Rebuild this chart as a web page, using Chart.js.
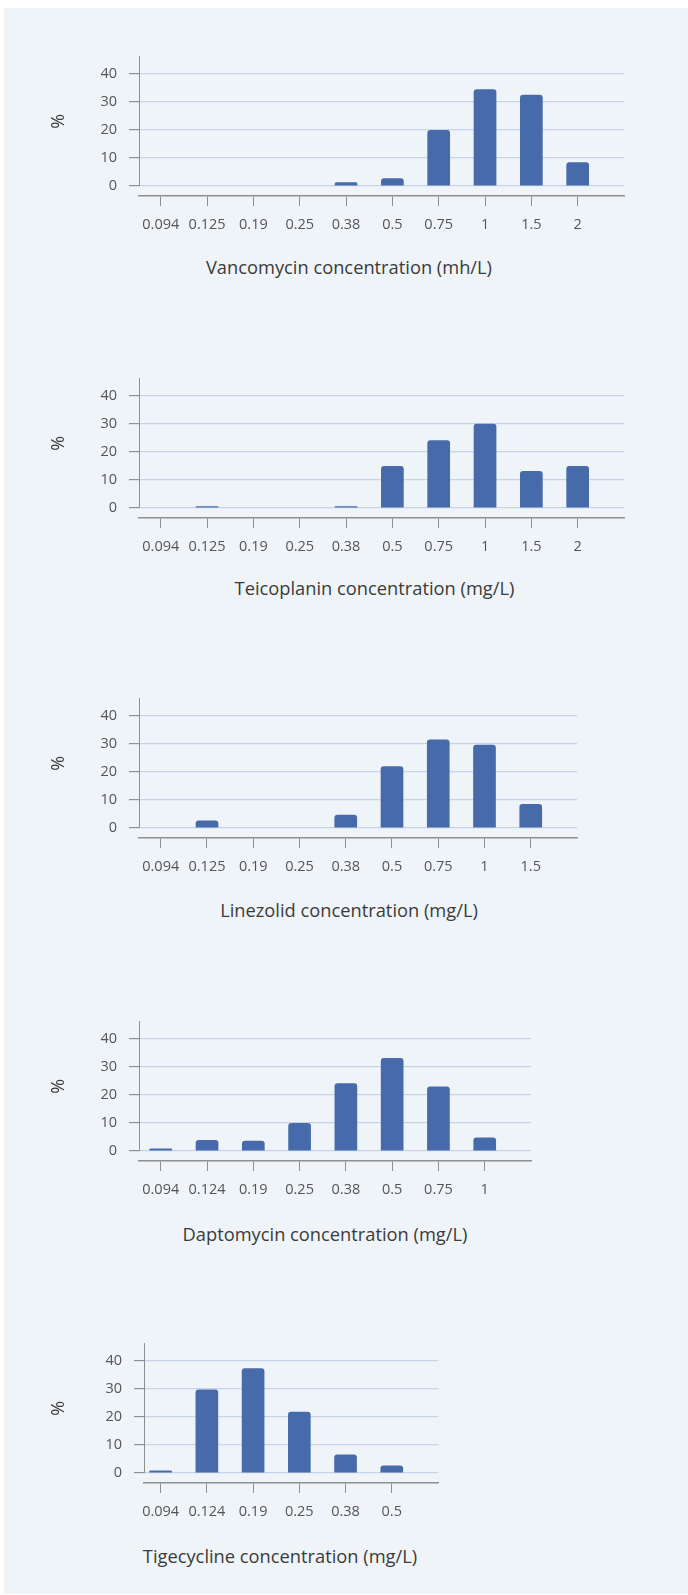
<!DOCTYPE html>
<html><head><meta charset="utf-8">
<script src="https://cdn.jsdelivr.net/npm/chart.js@4/dist/chart.umd.min.js"></script>
<style>
html,body{margin:0;padding:0;background:#fff;}
body{width:688px;height:1595px;position:relative;overflow:hidden;font-family:"Open Sans",sans-serif;}
#panel{position:absolute;left:4px;top:8px;right:0;height:1586px;background:#eff4f9;}
canvas{position:absolute;left:0;}
.xt{position:absolute;white-space:nowrap;color:#3b3b3b;}
</style></head><body>
<div id="panel"></div>
<script>
// ---- data ----
const vancoLabels = ['0.094','0.125','0.19','0.25','0.38','0.5','0.75','1','1.5','2'];
const vancoValues = [0, 0, 0, 0, 1.3, 2.8, 20, 34.5, 32.6, 8.5];
const vancoTitle = 'Vancomycin concentration (mh/L)';

const teicoLabels = ['0.094','0.125','0.19','0.25','0.38','0.5','0.75','1','1.5','2'];
const teicoValues = [0, 0.6, 0, 0, 0.6, 15, 24.2, 30.1, 13.2, 15];
const teicoTitle = 'Teicoplanin concentration (mg/L)';

const linezLabels = ['0.094','0.125','0.19','0.25','0.38','0.5','0.75','1','1.5'];
const linezValues = [0, 2.7, 0, 0, 4.7, 22, 31.6, 29.7, 8.6];
const linezTitle = 'Linezolid concentration (mg/L)';

const daptoLabels = ['0.094','0.124','0.19','0.25','0.38','0.5','0.75','1'];
const daptoValues = [0.9, 3.9, 3.7, 10, 24.2, 33.2, 23, 4.8];
const daptoTitle = 'Daptomycin concentration (mg/L)';

const tigeLabels = ['0.094','0.124','0.19','0.25','0.38','0.5'];
const tigeValues = [0.9, 29.8, 37.4, 21.9, 6.6, 2.7];
const tigeTitle = 'Tigecycline concentration (mg/L)';

const yTickValues = [0, 10, 20, 30, 40];
const yTitle = '%';

// ---- layout / style ----
const FONT = '"Open Sans", sans-serif';
const BAR = '#466aaa', GRID = '#c6d3ea', AXIS = '#8f8f8f', TICK = '#555555', TITLE = '#3b3b3b';
const SLOT = 46.3, PX_PER_UNIT = 3.25, AREA_H = 150, GAP_H = 10, XAXIS_H = 45, PAD_R = 10;
const TICK_SIZE = 14.5, TITLE_SIZE = 18.3, TITLE_LH = 26;

const charts = [
  {labels: vancoLabels, values: vancoValues, title: vancoTitle},
  {labels: teicoLabels, values: teicoValues, title: teicoTitle},
  {labels: linezLabels, values: linezValues, title: linezTitle},
  {labels: daptoLabels, values: daptoValues, title: daptoTitle},
  {labels: tigeLabels, values: tigeValues, title: tigeTitle}
];
const layouts = [
  {zero: 186, axisX: 139, xMin: -0.47, titleX: 349, titleBase: 274.5},
  {zero: 508, axisX: 139, xMin: -0.47, titleX: 374.5, titleBase: 595.5},
  {zero: 828, axisX: 139, xMin: -0.47, titleX: 349, titleBase: 917.5},
  {zero: 1151, axisX: 139, xMin: -0.47, titleX: 325, titleBase: 1240.7},
  {zero: 1473, axisX: 144, xMin: -0.36, titleX: 280, titleBase: 1562.7}
];

function makeChart(c, L) {
  const n = c.labels.length;
  const areaW = Math.round(SLOT * (n - L.xMin));
  const cv = document.createElement('canvas');
  cv.width = L.axisX + areaW + PAD_R;
  cv.height = AREA_H + GAP_H + XAXIS_H;
  cv.style.width = cv.width + 'px';
  cv.style.height = cv.height + 'px';
  cv.style.top = (L.zero - AREA_H) + 'px';
  document.body.appendChild(cv);
  new Chart(cv, {
    type: 'bar',
    data: {
      datasets: [{
        data: c.values.map((v, k) => ({x: k, y: v})),
        xAxisID: 'x', yAxisID: 'y',
        backgroundColor: BAR,
        borderRadius: 3,
        borderSkipped: 'start',
        categoryPercentage: 1,
        barPercentage: 0.49
      }]
    },
    options: {
      responsive: false, animation: false, devicePixelRatio: 1, events: [],
      layout: {padding: {left: 0, top: 0, right: PAD_R, bottom: 0}},
      plugins: {legend: {display: false}, tooltip: {enabled: false}, title: {display: false}},
      scales: {
        x: {
          type: 'linear', position: 'bottom', weight: 1, min: L.xMin, max: n, offset: false,
          afterBuildTicks: s => { s.ticks = c.labels.map((_, k) => ({value: k})); },
          afterFit: s => { s.height = XAXIS_H; },
          ticks: {autoSkip: false, maxRotation: 0, minRotation: 0, padding: 10, color: TICK,
                  font: {family: FONT, size: TICK_SIZE}, callback: v => c.labels[v]},
          grid: {display: true, drawOnChartArea: false, drawTicks: true, tickLength: 10, tickColor: AXIS, offset: false},
          border: {display: true, color: AXIS, width: 1.5}
        },
        gap: {
          type: 'linear', position: 'bottom', weight: 0, display: true,
          grid: {display: false}, border: {display: false}, ticks: {display: false},
          afterFit: s => { s.height = GAP_H; }
        },
        y: {
          type: 'linear', position: 'left', min: 0, max: AREA_H / PX_PER_UNIT,
          afterBuildTicks: s => { s.ticks = yTickValues.map(v => ({value: v})); },
          afterFit: s => { s.width = L.axisX; },
          ticks: {padding: 12, color: TICK, font: {family: FONT, size: TICK_SIZE}},
          grid: {color: GRID, lineWidth: 1.2, tickColor: AXIS, tickLength: 10, drawTicks: true},
          border: {display: true, color: AXIS, width: 1},
          title: {display: true, text: yTitle, color: TITLE, font: {family: FONT, size: 18}, padding: {top: 48, bottom: 0}}
        }
      }
    }
  });
  const t = document.createElement('div');
  t.className = 'xt';
  t.textContent = c.title;
  t.style.font = TITLE_SIZE + 'px ' + FONT;
  t.style.lineHeight = TITLE_LH + 'px';
  document.body.appendChild(t);
  const w = t.getBoundingClientRect().width;
  t.style.left = (L.titleX - w / 2) + 'px';
  t.style.top = (L.titleBase - ((TITLE_LH - 1.362 * TITLE_SIZE) / 2 + 1.069 * TITLE_SIZE)) + 'px';
}
charts.forEach((c, i) => makeChart(c, layouts[i]));
</script>
</body></html>
